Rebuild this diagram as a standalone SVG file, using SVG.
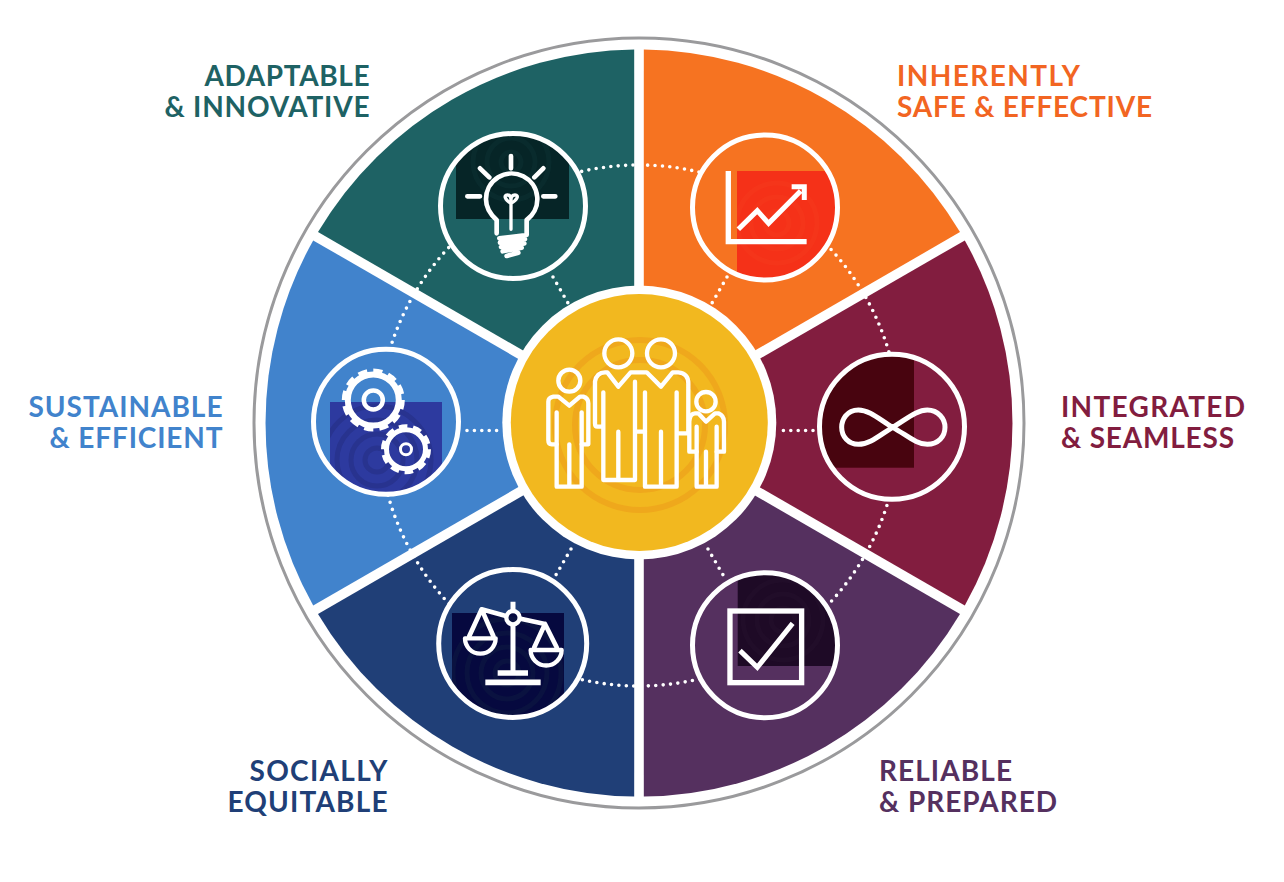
<svg xmlns="http://www.w3.org/2000/svg" width="1284" height="882" viewBox="0 0 1284 882">
<style>
.lbl{font-family:"Lato","Liberation Sans",sans-serif;font-weight:700;font-size:28px}
.dots{fill:none;stroke:#fff;stroke-width:3.6;stroke-linecap:round;stroke-dasharray:0 7.4}
.ring{fill:none;stroke:#fff;stroke-width:5}
.ic{fill:none;stroke:#fff;stroke-linecap:butt;stroke-linejoin:miter}
.rnd{fill:none;stroke:#fff;stroke-linecap:round;stroke-linejoin:round}
.rip{fill:none;stroke-width:5}
</style>
<defs>
<clipPath id="cBulb"><circle cx="513" cy="206" r="72"/></clipPath>
<clipPath id="cChart"><circle cx="765" cy="207.5" r="72"/></clipPath>
<clipPath id="cInf"><circle cx="892" cy="426.7" r="72"/></clipPath>
<clipPath id="cCheck"><circle cx="765" cy="645.3" r="72"/></clipPath>
<clipPath id="cScale"><circle cx="512.7" cy="643.5" r="73"/></clipPath>
<clipPath id="cGear"><circle cx="386" cy="421.7" r="72"/></clipPath>
<clipPath id="rBulb"><rect x="456" y="120" width="113" height="99"/></clipPath>
<clipPath id="rChart"><rect x="737" y="171" width="110" height="120"/></clipPath>
<clipPath id="rCheck"><rect x="737.7" y="560" width="110" height="106"/></clipPath>
<clipPath id="rScale"><rect x="452" y="613" width="112" height="120"/></clipPath>
<clipPath id="rGear"><rect x="330" y="402" width="112" height="100"/></clipPath>
</defs>
<circle id="outer-ring" cx="639" cy="423" r="385" fill="none" stroke="#9a9a9c" stroke-width="3"/>
<g id="wedges">
<path d="M643.8 414.7V49.5A373.5 373.5 0 0 1 960 232.1Z" fill="#f67321"/>
<path d="M648.6 423L964.8 240.4A373.5 373.5 0 0 1 964.8 605.6Z" fill="#821d3f"/>
<path d="M643.8 431.3L960 613.9A373.5 373.5 0 0 1 643.8 796.5Z" fill="#55305f"/>
<path d="M634.2 431.3V796.5A373.5 373.5 0 0 1 318 613.9Z" fill="#203f77"/>
<path d="M629.4 423L313.2 605.6A373.5 373.5 0 0 1 313.2 240.4Z" fill="#4183cc"/>
<path d="M634.2 414.7L318 232.1A373.5 373.5 0 0 1 634.2 49.5Z" fill="#1e6264"/>
</g>
<g id="connectors">
<circle class="dots" cx="639" cy="425.5" r="260.5"/>
<path class="dots" d="M467 430.5H503"/>
<path class="dots" d="M813 430.5H777"/>
<path class="dots" d="M553 277L572 310"/>
<path class="dots" d="M727 277L708 310"/>
<path class="dots" d="M571 549L553 580"/>
<path class="dots" d="M708 549L726 580"/>
</g>
<g id="node-bulb">
<circle cx="513" cy="206" r="72.5" fill="#1e6264"/>
<g clip-path="url(#cBulb)"><rect x="456" y="120" width="113" height="99" fill="#062527"/>
<g clip-path="url(#rBulb)"><g stroke="#092b2d" class="rip"><circle cx="511" cy="162" r="10"/><circle cx="511" cy="162" r="24"/><circle cx="511" cy="162" r="38"/></g></g></g>
<circle class="ring" cx="513" cy="206" r="72.5"/>
<g transform="translate(430 120) scale(.3333)">
<path class="rnd" stroke-width="14" d="M243 108V145M150 145L178 172M340 145L313 172M112 229H150M340 229H376"/>
<path class="rnd" stroke-width="14" d="M200 340V300Q168 272 168 238A77 77 0 1 1 290 300V345L208 355M210 368L285 357M213 381L283 370M218 394L275 383M230 408L265 398"/>
<path class="rnd" stroke-width="10" d="M243 328V250C225 240 220 225 232 225Q243 225 243 240Q243 225 255 225C268 225 262 240 243 250"/>
</g>
</g>
<g id="node-chart">
<circle cx="765" cy="207.5" r="72.5" fill="#f67321"/>
<g clip-path="url(#cChart)"><rect x="737" y="171" width="110" height="120" fill="#f53118"/>
<g clip-path="url(#rChart)"><g stroke="#f5351a" class="rip"><circle cx="777" cy="223" r="12"/><circle cx="777" cy="223" r="26"/><circle cx="777" cy="223" r="40"/></g></g></g>
<circle class="ring" cx="765" cy="207.5" r="72.5"/>
<g transform="translate(430 120) scale(.3333)">
<path class="ic" stroke-width="16" d="M895 153V365H1130"/>
<path class="ic" stroke-width="15" d="M925 328L982 272L1016 310L1112 213M1085 200H1123V240"/>
</g>
</g>
<g id="node-infinity">
<circle cx="892" cy="426.7" r="72.5" fill="#821d3f"/>
<g clip-path="url(#cInf)"><rect x="815" y="345" width="99" height="122.7" fill="#48040f"/></g>
<circle class="ring" cx="892" cy="426.7" r="72.5"/>
<path transform="translate(810 345) scale(.3333)" class="rnd" stroke-width="15" d="M248 247C210 225 180 195 145 195C110 195 95 225 95 247C95 275 115 298 145 298C180 298 210 270 248 247C290 222 320 195 352 195C385 195 405 222 405 247C405 275 385 298 352 298C320 298 290 270 248 247Z"/>
</g>
<g id="node-check">
<circle cx="765" cy="645.3" r="72.5" fill="#55305f"/>
<g clip-path="url(#cCheck)"><rect x="737.7" y="560" width="110" height="106" fill="#1e0a26"/>
<g clip-path="url(#rCheck)"><g stroke="#210d29" class="rip"><circle cx="783" cy="620" r="12"/><circle cx="783" cy="620" r="26"/><circle cx="783" cy="620" r="40"/></g></g></g>
<circle class="ring" cx="765" cy="645.3" r="72.5"/>
<g transform="translate(430 560) scale(.3333)">
<rect class="ic" stroke-width="16" x="900" y="153" width="215" height="215"/>
<path class="ic" stroke-width="15" d="M930 272L982 322L1088 190"/>
</g>
</g>
<g id="node-scale">
<circle cx="512.7" cy="643.5" r="74" fill="#203f77"/>
<g clip-path="url(#cScale)"><rect x="452" y="613" width="112" height="120" fill="#06093f"/>
<g clip-path="url(#rScale)"><g stroke="#0a1240" class="rip"><circle cx="507" cy="673" r="12"/><circle cx="507" cy="673" r="26"/><circle cx="507" cy="673" r="40"/><circle cx="507" cy="673" r="54"/></g></g></g>
<circle class="ring" cx="512.7" cy="643.5" r="74"/>
<g transform="translate(430 560) scale(.3333)">
<path class="ic" stroke-width="15" d="M249 125V152M249 195V335"/>
<path class="ic" stroke-width="17" d="M203 339H294M166 367H332"/>
<circle cx="249" cy="173" r="20" fill="none" stroke="#fff" stroke-width="13"/>
<path class="rnd" stroke-width="14" d="M228 168L155 148L118 228M155 148L190 228M272 176L345 192L313 262M345 192L380 262"/>
<path class="rnd" stroke-width="13" d="M105 235H197A46 46 0 0 1 105 235ZM302 270H395A46.500 46.500 0 0 1 302 270Z"/>
</g>
</g>
<g id="node-gears">
<circle cx="386" cy="421.700" r="72.5" fill="#4183cc"/>
<g clip-path="url(#cGear)"><rect x="330" y="402" width="112" height="100" fill="#2d3a9f"/>
<g clip-path="url(#rGear)"><g stroke="#28338f" class="rip"><circle cx="377" cy="460" r="12"/><circle cx="377" cy="460" r="26"/><circle cx="377" cy="460" r="40"/><circle cx="377" cy="460" r="54"/></g></g></g>
<circle class="ring" cx="386" cy="421.700" r="72.5"/>
<circle cx="373.300" cy="400" r="25.500" fill="none" stroke="#fff" stroke-width="6"/>
<circle cx="373.300" cy="400" r="29" fill="none" stroke="#fff" stroke-width="5" pathLength="120" stroke-dasharray="6 4"/>
<circle cx="373.300" cy="400" r="9.500" fill="none" stroke="#fff" stroke-width="4.500"/>
<circle cx="406" cy="449.300" r="19.500" fill="none" stroke="#fff" stroke-width="5"/>
<circle cx="406" cy="449.300" r="23" fill="none" stroke="#fff" stroke-width="4" pathLength="100" stroke-dasharray="6 4"/>
<circle cx="406" cy="449.300" r="5.500" fill="none" stroke="#fff" stroke-width="3"/>
</g>
<g id="node-center">
<circle cx="639.300" cy="422.500" r="137" fill="#fff"/>
<circle cx="639.300" cy="422.500" r="128.500" fill="#f2b81f"/>
<g fill="none" stroke="#efa81c" stroke-width="6"><circle cx="640" cy="425" r="85"/><circle cx="640" cy="425" r="65"/></g>
<g transform="translate(500 285) scale(.3333)" class="rnd" stroke-width="13">
<circle cx="355" cy="205" r="42"/><circle cx="483" cy="205" r="42"/>
<circle cx="208" cy="287" r="33"/><circle cx="618" cy="350" r="29"/>
<path d="M305 425H292Q285 425 285 415V290Q290 262 315 262H322L355 305L392 262H440L483 305L518 262H535Q565 265 565 295V445H535"/>
<path d="M310 322V585H405V440M355 440V585M405 290V440H435"/>
<path d="M435 322V605H530V322M483 440V605"/>
<path d="M170 382V605H245V382M208 478V605"/>
<path d="M170 478H155Q145 478 145 465V350Q145 338 160 335H175L208 362L240 335H250Q265 340 265 355V478H245"/>
<path d="M590 425V605H650V425M618 500V605"/>
<path d="M590 500H568V410Q570 385 585 385H595L618 410L645 385H655Q672 392 672 410V500H650"/>
</g>
</g>
<g id="labels" class="lbl">
<g fill="#1e6264" text-anchor="end"><text x="369.500" y="85.500" textLength="165">ADAPTABLE</text><text x="369.500" y="116.500" textLength="205">&amp; INNOVATIVE</text></g>
<g fill="#f26522"><text x="897" y="85.500" textLength="183">INHERENTLY</text><text x="897" y="116.500" textLength="255">SAFE &amp; EFFECTIVE</text></g>
<g fill="#4183cc" text-anchor="end"><text x="222.500" y="416.500" textLength="194">SUSTAINABLE</text><text x="222.500" y="447.500" textLength="173">&amp; EFFICIENT</text></g>
<g fill="#821d3f"><text x="1061" y="416.500" textLength="184">INTEGRATED</text><text x="1061" y="447.500" textLength="173">&amp; SEAMLESS</text></g>
<g fill="#203f77" text-anchor="end"><text x="387.500" y="780.500" textLength="138">SOCIALLY</text><text x="387.500" y="811.500" textLength="160">EQUITABLE</text></g>
<g fill="#55305f"><text x="879" y="780.500" textLength="133">RELIABLE</text><text x="879" y="811.500" textLength="178">&amp; PREPARED</text></g>
</g>
</svg>
